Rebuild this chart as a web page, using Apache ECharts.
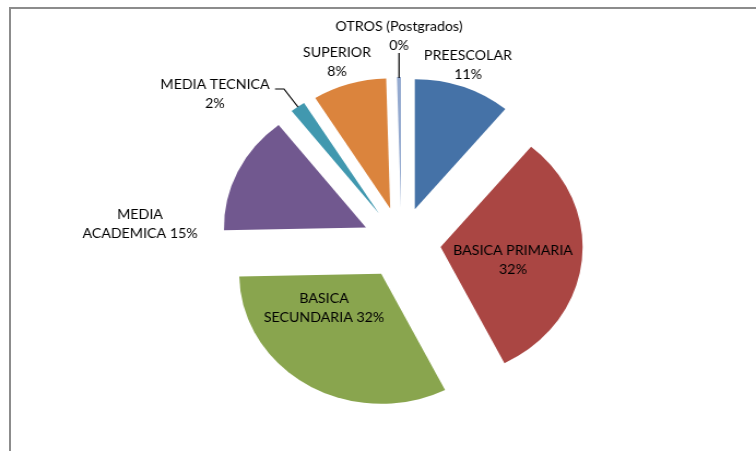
<!DOCTYPE html>
<html>
<head>
<meta charset="utf-8">
<title>Nivel educativo</title>
<script src="https://cdn.jsdelivr.net/npm/echarts@6/dist/echarts.min.js"></script>
<style>
html, body { margin: 0; padding: 0; width: 756px; height: 451px; overflow: hidden; background: #fff; }
/* marco del grafico (solo se ven los bordes superior e izquierdo) */
#frame { position: absolute; left: 9px; top: 7px; width: 800px; height: 500px;
         border-left: 2px solid #8c8c8c; border-top: 2px solid #8c8c8c; }
/* el original esta estirado en horizontal */
#chart { position: absolute; left: 0; top: 0; width: 692px; height: 451px;
         transform: scaleX(1.0925); transform-origin: 0 0; }
</style>
</head>
<body>
<div id="frame"></div>
<div id="chart"></div>
<script>
// datos (porcentaje por nivel)
var categories = ['PREESCOLAR', 'BASICA PRIMARIA', 'BASICA SECUNDARIA', 'MEDIA ACADEMICA',
                  'MEDIA TECNICA', 'SUPERIOR', 'OTROS (Postgrados)'];
var values = [11.0, 31.6, 32.1, 14.8, 1.7, 8.4, 0.45];
var colors = ['#4572A7', '#AA4643', '#89A54E', '#71588F', '#4198AF', '#DB843D', '#93A9CF'];

// escala horizontal aplicada con css
var SX = 1.0925;
var CENTER = [367.5, 243];
var RADIUS = 130;
// centro de cada etiqueta (px de la imagen final)
var labelPos = [[468, 65], [513, 260], [324, 308], [140, 224], [215, 94], [337, 62], [399, 36]];
// lineas guia
var leaders = {
    4: [[298, 107], [284, 89], [275, 89]],
    6: [[399, 78], [399, 53]]
};

function labelFor(name, pct){
    if(name == 'MEDIA ACADEMICA' || name == 'BASICA SECUNDARIA'){
        var p = name.split(' ');
        return p[0] + '\n' + p[1] + ' ' + pct + '%';
    }
    return name + '\n' + pct + '%';
}

// sectores separados
var sliceData = [];
// mismas partes, invisibles, solo para las etiquetas (el estado "selected" fija la etiqueta)
var labelData = [];
for(var i = 0; i < categories.length; i++){
    sliceData.push({
        name: categories[i],
        value: values[i],
        selected: true,
        itemStyle: { color: colors[i] }
    });
    labelData.push({
        name: categories[i],
        value: values[i],
        labelLine: { show: !!leaders[i] }
    });
}

var option = {
    animation: false,
    series: [{
        type: 'pie',
        center: CENTER,
        radius: RADIUS,
        startAngle: 90,
        clockwise: true,
        selectedMode: 'multiple',
        selectedOffset: 36,
        emphasis: { scale: false },
        itemStyle: { borderWidth: 0 },
        label: { show: false },
        labelLine: { show: false },
        data: sliceData
    }, {
        type: 'pie',
        center: CENTER,
        radius: RADIUS,
        startAngle: 90,
        clockwise: true,
        silent: true,
        z: 3,
        avoidLabelOverlap: false,
        itemStyle: { color: 'rgba(0,0,0,0)', borderWidth: 0 },
        label: {
            show: true,
            position: 'outside',
            fontFamily: 'Lato',
            fontSize: 13,
            lineHeight: 19,
            color: '#000',
            align: 'center',
            formatter: function(p){
                return labelFor(p.name, Math.round(p.percent));
            }
        },
        labelLine: {
            show: false,
            length: 5,
            length2: 5,
            lineStyle: { color: '#000', width: 1.2 }
        },
        labelLayout: function(params){
            var i = params.dataIndex;
            var pos = labelPos[i];
            var out = { x: pos[0] / SX, y: pos[1], align: 'center', verticalAlign: 'middle' };
            if(leaders[i]){
                out.labelLinePoints = leaders[i].map(function(pt){ return [pt[0] / SX, pt[1]]; });
            }
            return out;
        },
        data: labelData
    }]
};

var myChart = echarts.init(document.getElementById('chart'));
myChart.setOption(option);
</script>
</body>
</html>
